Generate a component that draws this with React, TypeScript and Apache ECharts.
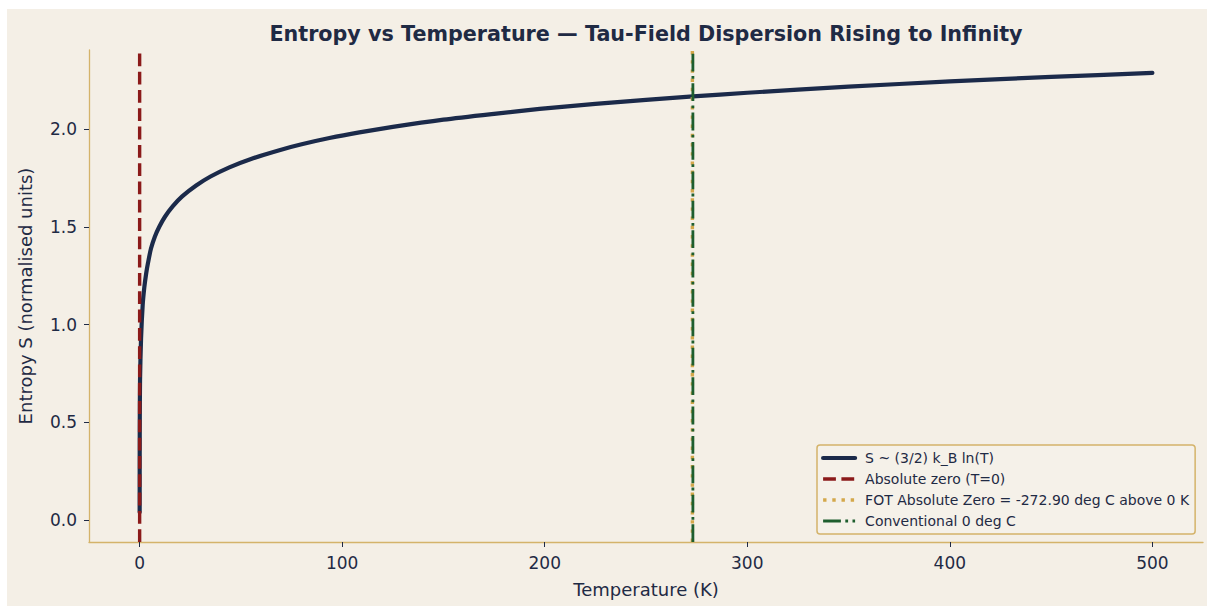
import React, { useEffect, useRef } from "react";
import * as echarts from "echarts";

const tempK = [0.01, 0.05, 0.2, 0.7, 1.5, 2.3, 3.2, 4.2, 5.6, 7.5, 9.7, 12.5, 16.3, 21, 27.9, 35, 44.3, 55, 69, 80, 93.7, 108.5, 125, 150, 175, 197.5, 225, 250, 273.2, 300, 350, 400, 450, 500];
const entropyS = [0.04, 0.45, 0.72, 0.93, 1.1, 1.19, 1.26, 1.32, 1.39, 1.451, 1.502, 1.553, 1.606, 1.657, 1.713, 1.759, 1.806, 1.849, 1.894, 1.924, 1.956, 1.985, 2.013, 2.05, 2.08, 2.105, 2.131, 2.152, 2.169, 2.188, 2.219, 2.246, 2.269, 2.29];

const absZeroX = [0, 0];
const fotZeroX = [272.9, 272.9];
const convZeroX = [273.15, 273.15];
const vLineY = [-0.113, 2.407];

const xTicks = [0, 100, 200, 300, 400, 500];
const yTicks = [0, 0.5, 1.0, 1.5, 2.0];

const seriesNames = [
  "S ~ (3/2) k_B ln(T)",
  "Absolute zero (T=0)",
  "FOT Absolute Zero = -272.90 deg C above 0 K",
  "Conventional 0 deg C",
];

const titleText = "Entropy vs Temperature \u2014 Tau-Field Dispersion Rising to Infinity";

const NAVY = "#1b2a4a";
const TEXT = "#1f2a44";
const RED = "#8b1a1a";
const GOLD = "#d4a84b";
const GREEN = "#1e5e2e";
const SPINE = "#d4b36a";
const BG = "#f4efe6";
const FONT = "'DejaVu Sans', sans-serif";

const vline = (xs: number[]) => xs.map((x, i) => [x, vLineY[i]]);

export default function App() {
  const ref = useRef<HTMLDivElement>(null);
  useEffect(() => {
    if (!ref.current) return;
    const chart = echarts.init(ref.current, undefined, { renderer: "svg" });
    chart.setOption({
      animation: false,
      backgroundColor: BG,
      textStyle: { fontFamily: FONT },
      title: {
        text: titleText,
        left: 634,
        top: 9,
        textAlign: "center",
        textStyle: { fontFamily: FONT, fontWeight: "bold", fontSize: 20.7, color: TEXT },
      },
      grid: { left: 82, top: 41, right: 4, bottom: 64, containLabel: false },
      legend: {
        orient: "vertical",
        left: 810,
        top: 436,
        padding: [5, 6, 5, 4],
        itemWidth: 32,
        itemHeight: 14,
        itemGap: 5,
        backgroundColor: "#f5f1e9",
        borderColor: SPINE,
        borderWidth: 1.5,
        borderRadius: 3,
        itemStyle: { opacity: 0 },
        lineStyle: { width: "inherit" },
        textStyle: { fontFamily: FONT, fontSize: 14, color: TEXT, padding: [0, 0, 0, 5], lineHeight: 16 },
        data: seriesNames,
      },
      xAxis: {
        type: "value",
        min: -25,
        max: 525,
        name: "Temperature (K)",
        nameLocation: "middle",
        nameGap: 38,
        nameTextStyle: { fontFamily: FONT, fontSize: 18, color: TEXT },
        axisLine: { show: true, onZero: false, lineStyle: { color: SPINE, width: 1.3 } },
        axisTick: { show: true, customValues: xTicks, length: 5, lineStyle: { color: TEXT, width: 1 } },
        axisLabel: { customValues: xTicks, margin: 12, fontFamily: FONT, fontSize: 17, color: TEXT },
        splitLine: { show: false },
      },
      yAxis: {
        type: "value",
        min: -0.113,
        max: 2.407,
        name: "Entropy S (normalised units)",
        nameLocation: "middle",
        nameGap: 55,
        nameTextStyle: { fontFamily: FONT, fontSize: 18, color: TEXT },
        axisLine: { show: true, onZero: false, lineStyle: { color: SPINE, width: 1.3 } },
        axisTick: { show: true, customValues: yTicks, length: 5, lineStyle: { color: TEXT, width: 1 } },
        axisLabel: {
          customValues: yTicks,
          margin: 12,
          fontFamily: FONT,
          fontSize: 17,
          color: TEXT,
          formatter: (v: number) => v.toFixed(1),
        },
        splitLine: { show: false },
      },
      series: [
        {
          name: seriesNames[0],
          type: "line",
          data: tempK.map((t, i) => [t, entropyS[i]]),
          showSymbol: false,
          symbol: "none",
          smooth: 0.25,
          lineStyle: { color: NAVY, width: 4.2, cap: "round", join: "round" },
          itemStyle: { color: NAVY },
          z: 2,
        },
        {
          name: seriesNames[1],
          type: "line",
          data: vline(absZeroX),
          symbol: "none",
          lineStyle: { color: RED, width: 3.4, type: [12.8, 5.5] },
          itemStyle: { color: RED },
          z: 3,
        },
        {
          name: seriesNames[2],
          type: "line",
          data: vline(fotZeroX),
          symbol: "none",
          lineStyle: { color: GOLD, width: 3.4, type: [3.4, 5.8] },
          itemStyle: { color: GOLD },
          z: 3,
        },
        {
          name: seriesNames[3],
          type: "line",
          data: vline(convZeroX),
          symbol: "none",
          lineStyle: { color: GREEN, width: 2.8, type: [17.8, 4.4, 2.8, 4.4] },
          itemStyle: { color: GREEN },
          z: 4,
        },
      ],
    });
    return () => chart.dispose();
  }, []);
  return (
    <div
      ref={ref}
      style={{ position: "absolute", left: 7, top: 9, width: 1200, height: 597 }}
    />
  );
}
